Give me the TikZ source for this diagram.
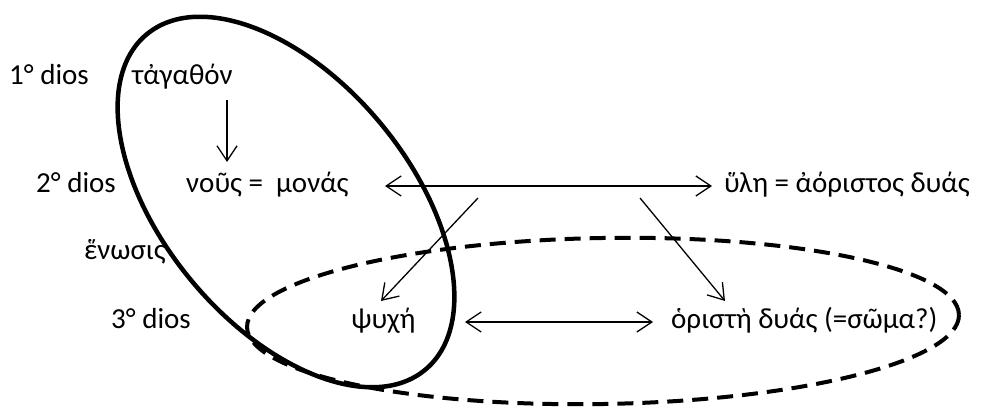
\documentclass[tikz,border=0pt]{standalone}
\usepackage{fontspec}
\setmainfont{Carlito}
\usetikzlibrary{arrows.meta}
\begin{document}
\begin{tikzpicture}[x=1pt,y=1pt,
  lbl/.style={anchor=base west,inner sep=0pt,font=\fontsize{29}{34}\selectfont},
  arr/.style={line width=1.3pt,-{Straight Barb[length=15pt,width=20pt,line width=1.3pt]}},
  darr/.style={line width=1.3pt,{Straight Barb[length=15pt,width=20pt,line width=1.3pt]}-{Straight Barb[length=15pt,width=20pt,line width=1.3pt]}},
  solidell/.style={line width=4.5pt},
  dashell/.style={line width=4pt,dash pattern=on 16pt off 9pt}]
\useasboundingbox (0,0) rectangle (984,407);
% labels
\node[lbl] (d1) at (9,322) {1° dios};
\node[lbl] (tag) at (132,322) {τἀγαθόν};
\node[lbl] (d2) at (36,214) {2° dios};
\node[lbl] (nous) at (186,214) {νοῦς =\ \ μονάς};
\node[lbl] (hyle) at (724,214) {ὕλη = ἀόριστος δυάς};
\node[lbl] (henosis) at (84,147) {ἕνωσις};
\node[lbl] (d3) at (111,79) {3° dios};
\node[lbl] (psyche) at (351,79) {ψυχή};
\node[lbl] (dyas) at (671,79) {ὁριστὴ δυάς (=σῶμα?)};
% ellipses
\coordinate (c1) at (286,205);
\coordinate (c2) at (603,86);
\draw[solidell,rotate around={-50.3:(c1)}] (c1) ellipse [x radius=218pt, y radius=123pt];
\draw[dashell,rotate around={1:(c2)}] (c2) ellipse [x radius=356pt, y radius=83pt];
% arrow end points
\coordinate (a1) at (227,307);
\coordinate (a2) at (227,245);
\coordinate (b1) at (385,221);
\coordinate (b2) at (712,221);
\coordinate (p1) at (478,209);
\coordinate (p2) at (381,106);
\coordinate (q1) at (640,209);
\coordinate (q2) at (725,106);
\coordinate (r1) at (465,85);
\coordinate (r2) at (653,85);
\draw[arr] (a1) -- (a2);
\draw[darr] (b1) -- (b2);
\draw[arr] (p1) -- (p2);
\draw[arr] (q1) -- (q2);
\draw[darr] (r1) -- (r2);
\end{tikzpicture}
\end{document}
